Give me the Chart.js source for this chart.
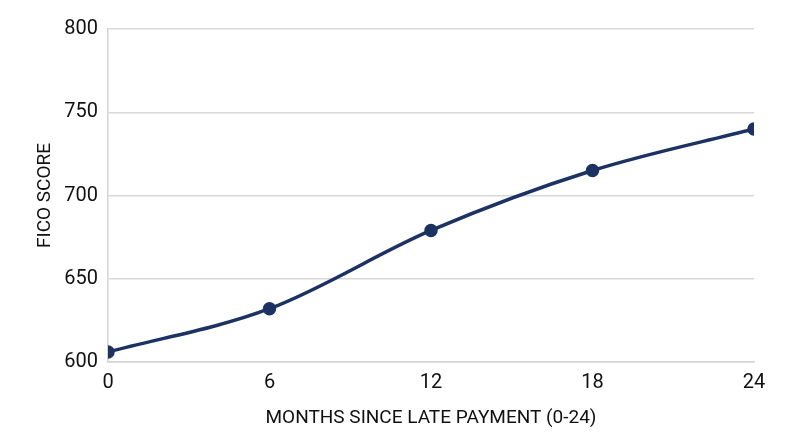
<!DOCTYPE html>
<html>
<head>
<meta charset="utf-8">
<script src="https://cdn.jsdelivr.net/npm/chart.js@4.4.1/dist/chart.umd.min.js"></script>
<style>
  html, body { margin: 0; padding: 0; background: #fff; }
  #wrap { width: 800px; height: 447px; }
</style>
</head>
<body>
<div id="wrap"><canvas id="myChart"></canvas></div>
<script>
const months = [0, 6, 12, 18, 24];
const ficoScores = [606, 632, 679, 715, 740];
const yTicks = [600, 650, 700, 750, 800];

const navy = "#1b3263";
const fontFamily = "Roboto, 'Liberation Sans', sans-serif";

const ctx = document.getElementById("myChart");
new Chart(ctx, {
  type: "line",
  data: {
    datasets: [
      {
        data: months.map((m, i) => ({ x: m, y: ficoScores[i] })),
        borderColor: navy,
        backgroundColor: navy,
        borderWidth: 3.5,
        pointRadius: 5,
        pointHoverRadius: 5,
        cubicInterpolationMode: "monotone",
        fill: false,
      },
    ],
  },
  options: {
    responsive: true,
    maintainAspectRatio: false,
    animation: false,
    layout: {
      padding: { top: 29, right: 46, left: 0, bottom: 0 },
    },
    plugins: {
      legend: { display: false },
      tooltip: { enabled: false },
    },
    scales: {
      x: {
        type: "linear",
        min: 0,
        max: 24,
        afterBuildTicks: (scale) => {
          scale.ticks = months.map((v) => ({ value: v }));
        },
        ticks: {
          color: "#111",
          padding: 9,
          font: { family: fontFamily, size: 20 },
        },
        grid: { display: false, drawTicks: false },
        border: { display: true, color: "#d4d4d4", width: 1.5 },
        title: {
          display: true,
          text: "MONTHS SINCE LATE PAYMENT (0-24)",
          color: "#111",
          padding: { top: 0, bottom: 17 },
          font: { family: fontFamily, size: 19 },
        },
        afterFit: (scale) => {
          scale.height = 85;
        },
      },
      y: {
        min: 600,
        max: 800,
        afterBuildTicks: (scale) => {
          scale.ticks = yTicks.map((v) => ({ value: v }));
        },
        ticks: {
          color: "#111",
          padding: 10,
          font: { family: fontFamily, size: 20 },
        },
        grid: { color: "#d8d8d8", lineWidth: 1.5, drawTicks: false },
        border: { display: true, color: "#d4d4d4", width: 1.5 },
        title: {
          display: true,
          text: "FICO SCORE",
          color: "#111",
          padding: { top: 34, bottom: 0 },
          font: { family: fontFamily, size: 19 },
        },
        afterFit: (scale) => {
          scale.width = 108;
        },
      },
    },
  },
});
</script>
</body>
</html>
